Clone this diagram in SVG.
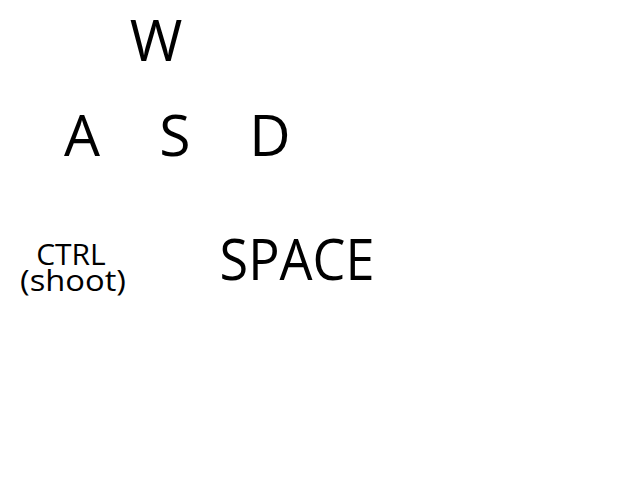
<svg xmlns="http://www.w3.org/2000/svg" width="640" height="480" viewBox="0 0 640 480">
<style>
text{font-family:"Open Sans","Noto Sans",sans-serif;fill:#000;text-anchor:middle}
.big{font-size:57px}
.small{font-size:30px}
</style>
<rect width="640" height="480" fill="#fff"/>
<g id="key-w"><text class="big" x="156" y="61">W</text></g>
<g id="key-a"><text class="big" x="82" y="156">A</text></g>
<g id="key-s"><text class="big" x="175" y="156">S</text></g>
<g id="key-d"><text class="big" x="270" y="156">D</text></g>
<g id="key-ctrl"><text class="small" x="71" y="265">CTRL</text><text class="small" x="73" y="291" textLength="106" lengthAdjust="spacingAndGlyphs">(shoot)</text></g>
<g id="key-space"><text class="big" x="297" y="280" textLength="155" lengthAdjust="spacingAndGlyphs">SPACE</text></g>
<g id="connectors"></g>
</svg>
